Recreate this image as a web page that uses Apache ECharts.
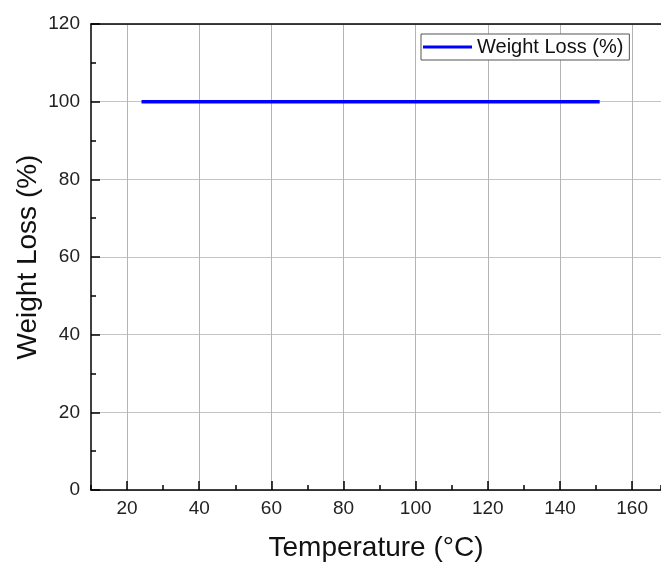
<!DOCTYPE html>
<html><head><meta charset="utf-8">
<script src="https://cdn.jsdelivr.net/npm/echarts@6/dist/echarts.min.js"></script>
<style>html,body{margin:0;padding:0;background:#fff}#c{width:661px;height:563px}</style>
</head><body><div id="c"></div>
<script>
const temperature = [24,28,32,36,40,44,48,52,56,60,64,68,72,76,80,84,88,92,96,100,104,108,112,116,120,124,128,132,136,140,144,148,151];
const weightLoss = [100.0,99.98,100.0,100.0,99.98,100.0,100.0,100.0,99.98,100.0,100.0,99.98,100.0,100.0,100.0,99.98,100.0,100.0,100.0,99.98,100.0,100.0,99.98,100.0,100.0,100.0,99.98,100.0,100.0,99.98,100.0,100.0,100.0];
const xTicks = [20,40,60,80,100,120,140,160];
const yTicks = [0,20,40,60,80,100,120];
const seriesName = 'Weight Loss (%)';

const font = '"Liberation Sans", Arial, sans-serif';
const chart = echarts.init(document.getElementById('c'));
chart.setOption({
  animation: false,
  grid: {left: 91, right: 0, top: 24, bottom: 73, containLabel: false, outerBoundsMode: 'none'},
  legend: {
    data: [seriesName], left: 421, top: 34, orient: 'vertical',
    padding: [3, 6, 3, 2], itemWidth: 49, itemHeight: 3, icon: 'rect', itemGap: 0,
    borderColor: '#555', borderWidth: 1, backgroundColor: '#fff',
    textStyle: {fontFamily: font, fontSize: 20, color: '#111', padding: [0, 0, 0, 0]}
  },
  xAxis: [{
    type: 'value', min: 10, max: 168, interval: 10,
    name: 'Temperature (°C)', nameLocation: 'middle', nameGap: 44,
    nameTextStyle: {fontFamily: font, fontSize: 28, color: '#111'},
    axisLine: {show: true, onZero: false, lineStyle: {color: '#000', width: 1.5}},
    axisTick: {show: true, inside: true, length: 9, customValues: xTicks, lineStyle: {color: '#000', width: 1.5}},
    axisLabel: {fontFamily: font, fontSize: 19, color: '#222', margin: 9, customValues: xTicks},
    splitLine: {show: true, lineStyle: {color: '#b4b4b4', width: 1}}
  }, {
    type: 'value', position: 'top', min: 10, max: 168,
    axisLine: {show: true, onZero: false, lineStyle: {color: '#000', width: 1.5}},
    axisTick: {show: false}, axisLabel: {show: false}, splitLine: {show: false}
  }, {
    type: 'value', position: 'bottom', min: 10, max: 168, interval: 10,
    axisLine: {show: false},
    axisTick: {show: true, inside: true, length: 5, lineStyle: {color: '#000', width: 1.5}},
    axisLabel: {show: false}, splitLine: {show: false}
  }],
  yAxis: [{
    type: 'value', min: 0, max: 120, interval: 20,
    name: 'Weight Loss (%)', nameLocation: 'middle', nameGap: 49, nameMoveOverlap: false,
    nameTextStyle: {fontFamily: font, fontSize: 28, color: '#111'},
    axisLine: {show: true, onZero: false, lineStyle: {color: '#000', width: 1.5}},
    axisTick: {show: true, inside: true, length: 9, lineStyle: {color: '#000', width: 1.5}},
    minorTick: {show: true, splitNumber: 2, length: 5, lineStyle: {color: '#000', width: 1.5}},
    axisLabel: {fontFamily: font, fontSize: 19, color: '#222', margin: 11,
      formatter: v => yTicks.includes(v) ? String(v) : ''},
    splitLine: {show: true, lineStyle: {color: '#c4c4c4', width: 1}}
  }],
  series: [{
    name: seriesName, type: 'line', xAxisIndex: 0, yAxisIndex: 0,
    data: temperature.map((t, i) => [t, weightLoss[i]]),
    showSymbol: false, symbol: 'none',
    lineStyle: {color: '#0000ff', width: 3.5},
    itemStyle: {color: '#0000ff'}
  }]
});
</script>
</body></html>
